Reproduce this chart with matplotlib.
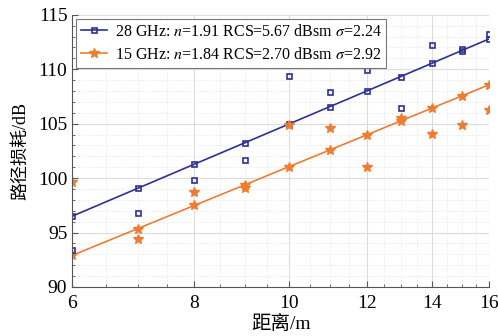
import matplotlib
matplotlib.use("Agg")
import matplotlib.pyplot as plt
from matplotlib.ticker import FixedLocator, NullFormatter
import numpy as np

plt.rcParams['font.family'] = ['Liberation Serif', 'Noto Sans CJK SC']
plt.rcParams['mathtext.fontset'] = 'stix'

dist = [6, 7, 8, 9, 10, 11, 12, 13, 14, 15, 16]

# 28 GHz: measured points and fitted line
meas_28 = [93.4, 96.8, 99.8, 101.7, 109.4, 107.9, 109.9, 106.4, 112.2, 111.9, 113.2]
fit_28 = [96.5, 99.06, 101.28, 103.23, 104.98, 106.56, 108.0, 109.33, 110.56, 111.71, 112.78]

# 15 GHz
meas_15 = [99.6, 94.4, 98.7, 99.1, 104.9, 104.6, 101.0, 105.5, 104.05, 104.85, 106.25]
fit_15 = [92.9, 95.36, 97.49, 99.37, 101.06, 102.58, 103.97, 105.25, 106.44, 107.54, 108.57]

x_ticks = [6, 8, 10, 12, 14, 16]
x_minor = [6.5, 7, 7.5, 8.5, 9, 9.5, 10.5, 11, 11.5, 12.5, 13, 13.5, 14.5, 15, 15.5]
y_ticks = [90, 95, 100, 105, 110, 115]

lab_28 = '28 GHz: $n$=1.91 RCS=5.67 dBsm $\\sigma$=2.24'
lab_15 = '15 GHz: $n$=1.84 RCS=2.70 dBsm $\\sigma$=2.92'

c28 = '#2E3192'
c15 = '#ED7D31'

fig = plt.figure(figsize=(4.98, 3.36), dpi=100)
ax = fig.add_axes([0.145, 0.146, 0.837, 0.81])

ax.plot(dist, fit_28, color=c28, lw=1.2, marker='s', ms=3.6, mfc='none', mew=1.2, label=lab_28)
ax.plot(dist, fit_15, color=c15, lw=1.2, marker='*', ms=7.5, label=lab_15)
ax.plot(dist, meas_28, ls='none', marker='s', ms=3.6, mfc='none', mew=1.2, color=c28)
ax.plot(dist, meas_15, ls='none', marker='*', ms=7.5, color=c15)

ax.set_xscale('log')
ax.set_xlim(6, 16)
ax.set_ylim(90, 115)
ax.xaxis.set_major_locator(FixedLocator(x_ticks))
ax.xaxis.set_minor_locator(FixedLocator(x_minor))
ax.xaxis.set_minor_formatter(NullFormatter())
ax.set_xticklabels([str(t) for t in x_ticks])
ax.set_yticks(y_ticks)
ax.yaxis.set_minor_locator(FixedLocator(np.arange(90, 116, 1)))

ax.grid(which='major', color='#dcdcdc', lw=0.8)
ax.grid(which='minor', color='#e0e0e0', lw=0.6, ls=':')
ax.set_axisbelow(True)

for s in ['top', 'right']:
    ax.spines[s].set_visible(False)
for s in ['left', 'bottom']:
    ax.spines[s].set_color('#555555')
    ax.spines[s].set_linewidth(0.8)

ax.tick_params(which='both', direction='in', colors='#555555', labelcolor='black', labelsize=14)
ax.tick_params(which='major', length=4)
ax.tick_params(which='minor', length=2)
ax.tick_params(axis='x', pad=6)

ax.set_xlabel('距离/m', fontsize=14, labelpad=2)
ax.set_ylabel('路径损耗/dB', fontsize=13, labelpad=6)

leg = ax.legend(loc='upper left', fontsize=11.5, frameon=True, fancybox=False,
                edgecolor='#777777', framealpha=1, handlelength=1.6, handletextpad=0.5,
                borderaxespad=0.25, labelspacing=0.45, borderpad=0.3)
leg.get_frame().set_linewidth(0.8)

fig.savefig('out.png', dpi=100)
